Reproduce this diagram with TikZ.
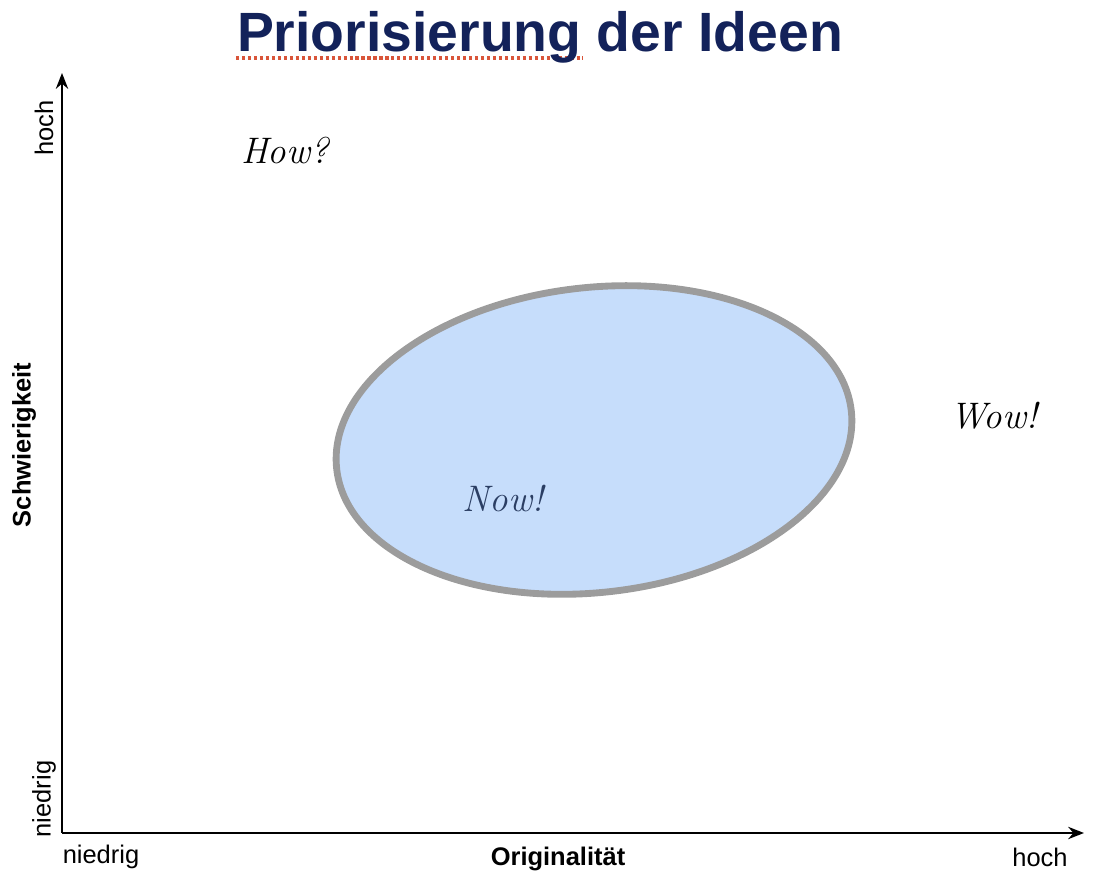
\documentclass[tikz,border=0pt]{standalone}
\usepackage{fontspec}
\setmainfont{Liberation Sans}
\newfontfamily\handfont{Latin Modern Roman}
\usetikzlibrary{shapes.geometric,arrows.meta}
\definecolor{titleblue}{HTML}{13225A}
\definecolor{blobfill}{HTML}{C6DDFB}
\definecolor{blobline}{HTML}{9C9C9C}
\definecolor{nowblue}{HTML}{2B3E63}
\definecolor{spellred}{HTML}{D9553A}
\tikzset{
  axisline/.style={line width=1.2pt,-{Stealth[length=9pt,width=7pt]}},
  axislabel/.style={font=\fontsize{14.5pt}{16pt}\selectfont,inner sep=0pt},
  axistitle/.style={font=\fontsize{14.5pt}{16pt}\selectfont\bfseries,inner sep=0pt},
  handtext/.style={font=\fontsize{21pt}{24pt}\selectfont\handfont\itshape,inner sep=0pt},
  blob/.style={ellipse,draw=blobline,fill=blobfill,line width=3.9pt,minimum width=10.36cm,minimum height=6.1cm,inner sep=0pt}
}
\begin{document}
\begin{tikzpicture}[x=0.02cm,y=-0.02cm]
\useasboundingbox (0,0) rectangle (1116,884);
% spell-check underline (behind title)
\coordinate (ul1) at (236,58);
\coordinate (ul2) at (583,58);
\draw[spellred,line width=1.8pt,dash pattern=on 1.8pt off 1.6pt] (ul1) -- (ul2);
% title
\node[anchor=base,inner sep=0pt,text=titleblue,font=\fontsize{31.5pt}{34pt}\selectfont\bfseries] (title) at (540,52) {Priorisierung der Ideen};
% axes
\coordinate (origin) at (62,833);
\coordinate (ytip) at (62,73);
\coordinate (xtip) at (1084,833);
\draw[axisline] (origin) -- (ytip);
\draw[axisline] (origin) -- (xtip);
% ellipse
\node[blob,rotate=6.5] (ell) at (594,440) {};
% axis labels
\node[axislabel,rotate=90] (yhigh) at (44,128) {hoch};
\node[axislabel,rotate=90] (ylow) at (44,799) {niedrig};
\node[axistitle,rotate=90] (ytitle) at (24,445) {Schwierigkeit};
\node[axislabel] (xlow) at (101,857) {niedrig};
\node[axislabel] (xhigh) at (1040,857) {hoch};
\node[axistitle] (xtitle) at (558,859) {Originalität};
% quadrant labels
\node[handtext] (how) at (285,151) {How?};
\node[handtext,text=nowblue] (now) at (503,498) {Now!};
\node[handtext] (wow) at (994,416) {Wow!};
\end{tikzpicture}
\end{document}
